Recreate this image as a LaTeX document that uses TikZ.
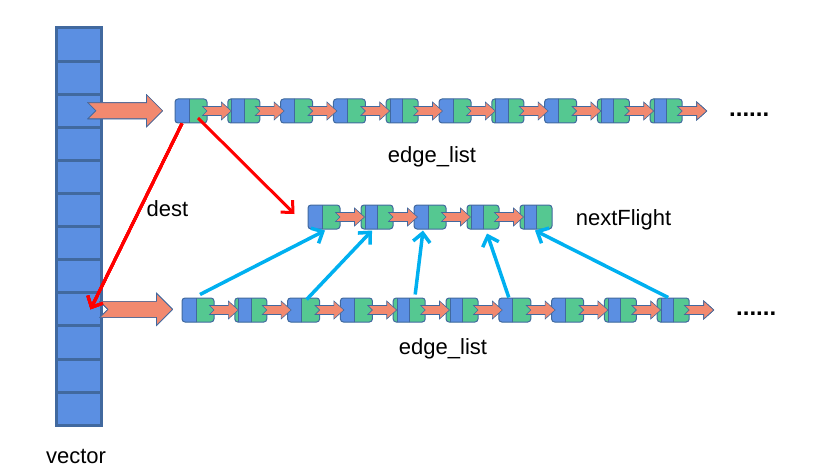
\documentclass[tikz,border=0pt]{standalone}
\usepackage{fontspec}
\setmainfont{Liberation Sans}
\usepackage{xcolor}
\usepackage{tikz}
\usetikzlibrary{positioning,calc,arrows.meta}

\definecolor{cellblue}{HTML}{5B8FE2}
\definecolor{edgeblue}{HTML}{41699F}
\definecolor{listgreen}{HTML}{55C891}
\definecolor{salmon}{HTML}{F2896F}
\definecolor{linkcyan}{HTML}{00B0F0}

% notched block arrow: from, to, shaft half, head half, head length
\newcommand{\blockarrow}[5]{%
  \draw[blockarr] let \p1=(#1), \p2=(#2) in
    (\x1,\y1+#3) -- (\x2-#5,\y1+#3) -- (\x2-#5,\y1+#4) -- (\x2,\y1)
    -- (\x2-#5,\y1-#4) -- (\x2-#5,\y1-#3) -- (\x1,\y1-#3) -- (\x1+#3,\y1) -- cycle;}

\begin{document}
\begin{tikzpicture}[x=1pt,y=-1pt,
vcell/.style={draw=edgeblue,line width=3pt,fill=cellblue,minimum width=45pt,minimum height=33.1pt,inner sep=0pt},
lbox/.style={draw=edgeblue,line width=1pt,fill=listgreen,rounded corners=3pt,minimum width=32pt,minimum height=24pt,inner sep=0pt,
    path picture={\draw[sharp corners,draw=edgeblue,line width=1pt,fill=cellblue]
    ([xshift=-2pt,yshift=-2pt]path picture bounding box.south west) rectangle ([xshift=14pt,yshift=2pt]path picture bounding box.north west);}},
lboxin/.style={lbox,
    path picture={\draw[sharp corners,draw=edgeblue,line width=1pt,fill=cellblue]
    ([xshift=4pt,yshift=-2pt]path picture bounding box.south west) rectangle ([xshift=16.5pt,yshift=2pt]path picture bounding box.north west);}},
blockarr/.style={draw=edgeblue,line width=0.6pt,fill=salmon},
destlink/.style={draw=red,line width=3pt,-{Straight Barb[length=9pt,width=17pt]}},
nextlink/.style={draw=linkcyan,line width=3.5pt,-{Straight Barb[length=9pt,width=17pt]}},
tag/.style={inner sep=0pt,anchor=base,font=\fontsize{22}{26}\selectfont}]
\useasboundingbox (0,0) rectangle (832,473);
% vector
\foreach \i in {1,...,12}
  \node (vc\i) [vcell] at (78.5,{28+33.1*(\i-0.5)}) {};
% edge lists and nextFlight list
\foreach \i/\s in {1/lbox,2/lboxin,3/lbox,4/lbox,5/lboxin,6/lbox,7/lboxin,8/lbox,9/lboxin,10/lboxin}
  \node (te\i) [\s] at ({191+52.8*(\i-1)},111) {};
\foreach \i/\s in {1/lbox,2/lboxin,3/lbox,4/lboxin,5/lboxin}
  \node (nf\i) [\s] at ({324+53*(\i-1)},217) {};
\foreach \i/\s in {1/lbox,2/lboxin,3/lbox,4/lbox,5/lboxin,6/lboxin,7/lbox,8/lbox,9/lboxin,10/lboxin}
  \node (be\i) [\s] at ({198+52.8*(\i-1)},310) {};
% small arrows
\foreach \i [count=\j from 2] in {1,...,9} {
  \blockarrow{[xshift=-5pt]te\i.east}{[xshift=4pt]te\j.west}{4.5}{9}{10}
  \blockarrow{[xshift=-5pt]be\i.east}{[xshift=4pt]be\j.west}{4.5}{9}{10}
}
\foreach \i [count=\j from 2] in {1,...,4}
  \blockarrow{[xshift=-5pt]nf\i.east}{[xshift=4pt]nf\j.west}{4.5}{9}{10}
\blockarrow{[xshift=-5pt]te10.east}{[xshift=24pt]te10.east}{4.5}{9}{10}
\blockarrow{[xshift=-5pt]be10.east}{[xshift=24pt]be10.east}{4.5}{9}{10}
% big arrows
\blockarrow{[xshift=9.5pt]vc3.center}{[xshift=-12pt]te1.west}{8}{16}{16}
\blockarrow{[xshift=21.5pt]vc9.center}{[xshift=-9pt]be1.west}{8}{16}{16}
% links
\draw[destlink] ([xshift=-9pt]te1.south) -- ([xshift=12pt]vc9.center);
\draw[destlink] ([xshift=7pt,yshift=-7pt]te1.center) -- ([xshift=-13pt,yshift=3pt]nf1.west);
\draw[nextlink] ([xshift=2pt,yshift=3pt]be1.north) -- ([xshift=1pt,yshift=-1pt]nf1.south);
\draw[nextlink] ([xshift=3pt,yshift=-2pt]be3.north) -- ([xshift=-5pt,yshift=-1pt]nf2.south);
\draw[nextlink] ([xshift=6pt,yshift=3pt]be5.north) -- ([xshift=-7pt,yshift=-1pt]nf3.south);
\draw[nextlink] ([xshift=-6pt]be7.north) -- ([xshift=4pt,yshift=-4pt]nf4.south);
\draw[nextlink] ([xshift=-5pt]be10.north) -- ([xshift=-1pt,yshift=-1pt]nf5.south);
% labels
\node (tlab) [tag] at (432,163) {edge\_list};
\node (blab) [tag] at (443,354) {edge\_list};
\node (dlab) [tag] at (167.5,216) {dest};
\node (nlab) [tag] at (623.5,225) {nextFlight};
\node (vlab) [tag] at (76,463) {vector};
\node (tdots) [tag,anchor=base west,font=\bfseries\fontsize{24}{28}\selectfont] at (729,117) {......};
\node (bdots) [tag,anchor=base west,font=\bfseries\fontsize{24}{28}\selectfont] at (736,315) {......};
\end{tikzpicture}
\end{document}
